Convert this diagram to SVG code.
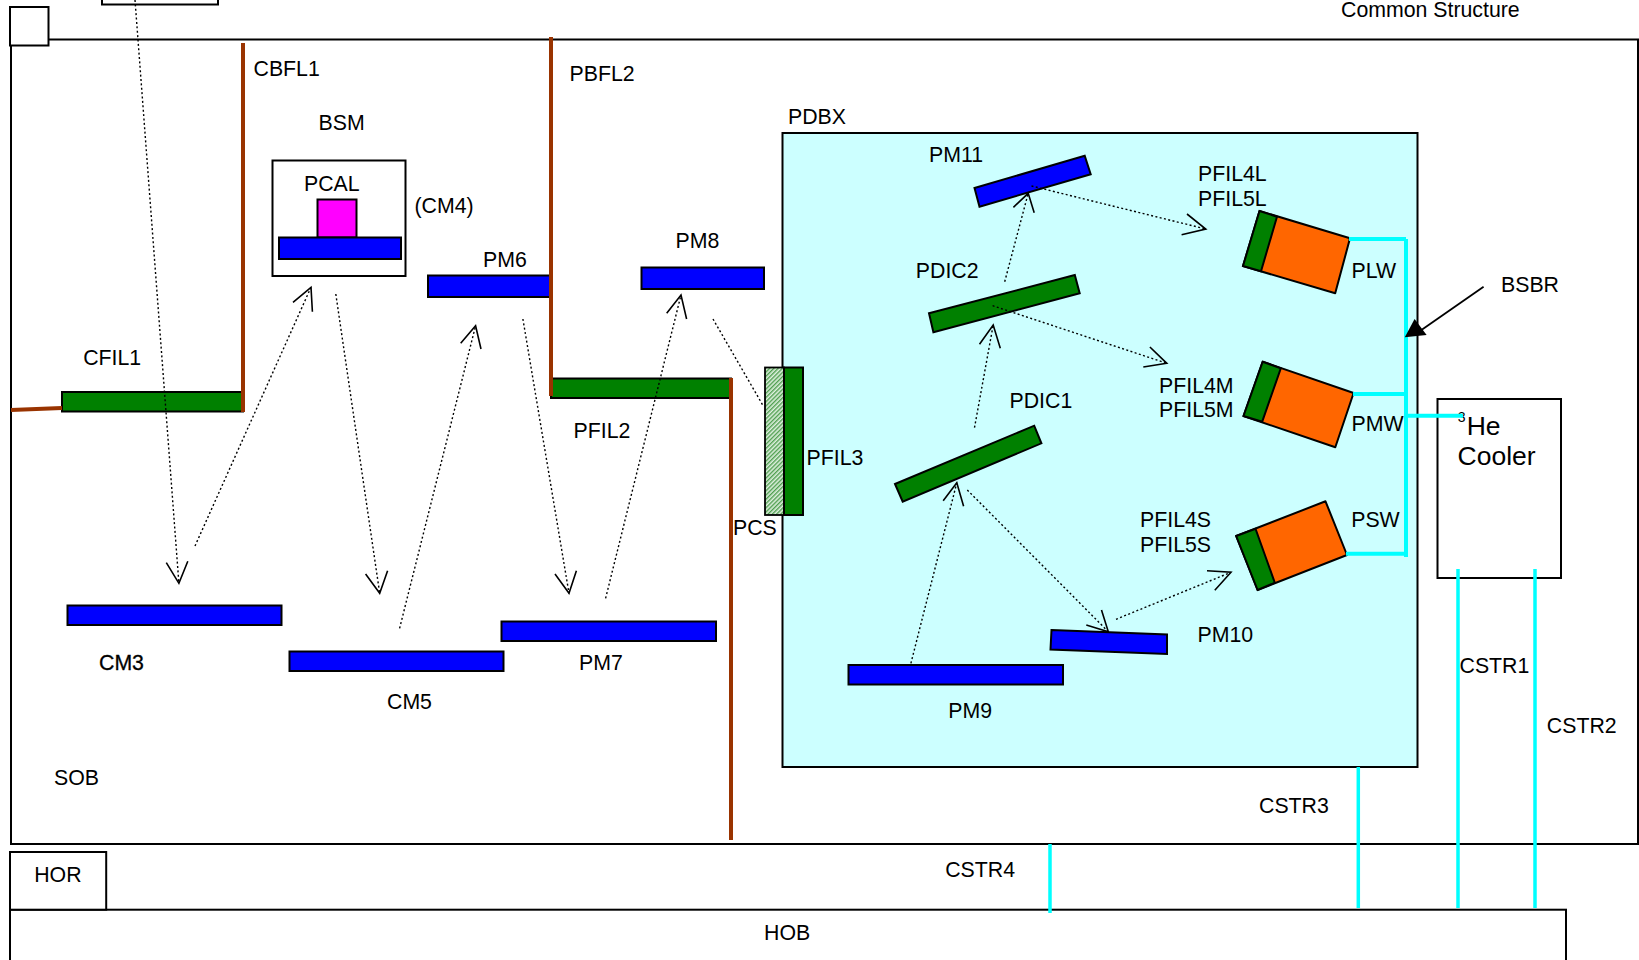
<svg xmlns="http://www.w3.org/2000/svg" width="1639" height="960" viewBox="0 0 1639 960">
<style>
text{font-family:"Liberation Sans",Arial,sans-serif;font-size:21.3px;fill:#000}
.box{fill:#fff;stroke:#000;stroke-width:2}
.m{fill:#0000ff;stroke:#000;stroke-width:2}
.f{fill:#008000;stroke:#000;stroke-width:2}
.o{fill:#ff6600;stroke:#000;stroke-width:2;stroke-linejoin:round}
.b{stroke:#993300;stroke-width:4;fill:none}
.c{stroke:#00ffff;stroke-width:4;fill:none}
.r{stroke:#000;stroke-width:1.4;stroke-dasharray:2 2.4;fill:none}
.h{stroke:#000;stroke-width:1.6;fill:none}
.big{font-size:26.5px}
</style>
<defs>
<pattern id="hatch" width="3" height="3" patternUnits="userSpaceOnUse" patternTransform="rotate(45)">
<rect width="3" height="3" fill="#dff0df"/><rect width="1.4" height="3" fill="#4f9f4f"/>
</pattern>
</defs>
<rect width="1639" height="960" fill="#fff"/>
<g id="SOB"><rect x="11" y="39.5" width="1627" height="804.5" class="box"/><text x="54" y="785">SOB</text></g>
<g id="topbox"><rect x="102" y="-10" width="116" height="14.500" class="box"/></g>
<g id="corner"><rect x="10" y="7" width="38.500" height="38.500" class="box"/></g>
<g id="HOB"><rect x="10" y="909.700" width="1556" height="70" class="box"/><text x="764" y="940">HOB</text></g>
<g id="HOR"><rect x="10" y="852" width="96.200" height="57.700" class="box"/><text x="34.200" y="882.300">HOR</text></g>
<g id="Common"><text x="1341" y="17">Common Structure</text></g>
<g id="PDBX"><rect x="782.500" y="133" width="635" height="634" fill="#ccffff" stroke="#000" stroke-width="2"/><text x="788" y="124">PDBX</text></g>
<g id="Cooler"><rect x="1437.500" y="399" width="123.500" height="179" class="box"/><text x="1457.800" y="422" style="font-size:14px">3</text><text x="1466.700" y="435" class="big">He</text><text x="1457.600" y="465" class="big">Cooler</text></g>
<g id="CFIL1"><rect x="62" y="392" width="181" height="19.500" class="f"/><text x="83.200" y="365">CFIL1</text></g>
<g id="CBFL1"><path d="M243 43V412M11 410L62 408" class="b"/><text x="253.500" y="76">CBFL1</text></g>
<g id="BSM"><rect x="272.500" y="160.500" width="133" height="115.500" class="box"/><rect x="317.500" y="199.500" width="39" height="38" fill="#ff00ff" stroke="#000" stroke-width="2"/><rect x="279" y="237.500" width="122" height="21.500" class="m"/><text x="318.500" y="130">BSM</text><text x="304" y="191">PCAL</text><text x="414.500" y="213">(CM4)</text></g>
<g id="PM6"><rect x="428" y="275.500" width="123.500" height="21.500" class="m"/><text x="483" y="266.700">PM6</text></g>
<g id="PM8"><rect x="641.500" y="267.500" width="122.500" height="21.500" class="m"/><text x="675.500" y="247.700">PM8</text></g>
<g id="PFIL2"><rect x="551" y="378.500" width="180" height="19.500" class="f"/><text x="573.500" y="437.700">PFIL2</text></g>
<g id="PBFL2"><path d="M551 37V396" class="b"/><text x="569.500" y="81">PBFL2</text></g>
<g id="PBFL"><path d="M731 378V840" class="b"/></g>
<g id="PCS"><rect x="765" y="367.500" width="19" height="147.500" fill="url(#hatch)" stroke="#000" stroke-width="1.800"/><text x="733" y="535">PCS</text></g>
<g id="PFIL3"><rect x="784" y="367.500" width="19" height="147.500" class="f"/><text x="806.600" y="465">PFIL3</text></g>
<g id="CM3"><rect x="67.500" y="605.500" width="214" height="19.500" class="m"/><text x="99" y="670" stroke="#000" stroke-width=".3">CM3</text></g>
<g id="CM5"><rect x="289.500" y="651.500" width="214" height="19.500" class="m"/><text x="387" y="709">CM5</text></g>
<g id="PM7"><rect x="501.500" y="621.500" width="214.500" height="19.500" class="m"/><text x="579" y="670">PM7</text></g>
<g id="PM9"><rect x="848.500" y="665" width="214.500" height="19.500" class="m"/><text x="948.300" y="718.300">PM9</text></g>
<g id="PM10"><polygon points="1051.500,630 1167,634.500 1167,654 1050.500,649.500" class="m"/><text x="1197.500" y="641.700">PM10</text></g>
<g id="PM11"><polygon points="974.500,188 1084.700,155.700 1090.700,174.300 979.500,206.700" class="m"/><text x="929" y="161.700">PM11</text></g>
<g id="PDIC2"><polygon points="929,313.300 1074.800,275 1079.700,293.300 933.400,332.300" class="f"/><text x="915.800" y="277.700">PDIC2</text></g>
<g id="PDIC1"><polygon points="895,484 1034.200,425.700 1041.400,443.300 902.700,501.700" class="f"/><text x="1009.500" y="408">PDIC1</text></g>
<g id="PLW"><polygon points="1259.500,211 1350,238.300 1335.200,293.300 1243,266" class="o"/><polygon points="1259.500,211 1277,216.700 1261,271.300 1243,266" class="f"/><text x="1351.500" y="277.700">PLW</text><text x="1198" y="181">PFIL4L</text><text x="1198" y="205.700">PFIL5L</text></g>
<g id="PMW"><polygon points="1262.700,361.700 1353.600,393 1335.300,447.300 1243.500,416" class="o"/><polygon points="1262.700,361.700 1280.800,368.300 1262.200,421.700 1243.500,416" class="f"/><text x="1351.500" y="431">PMW</text><text x="1159" y="392.700">PFIL4M</text><text x="1159" y="416.700">PFIL5M</text></g>
<g id="PSW"><polygon points="1236.200,536 1325.500,501.300 1347,555 1257.600,590" class="o"/><polygon points="1236.200,536 1255.500,528.700 1274.800,582.700 1257.600,590" class="f"/><text x="1351.200" y="526.700">PSW</text><text x="1140" y="526.700">PFIL4S</text><text x="1140" y="551.700">PFIL5S</text></g>
<g id="labels"><text x="1501" y="291.700">BSBR</text><text x="1459.500" y="672.700">CSTR1</text><text x="1546.800" y="733">CSTR2</text><text x="1259" y="813">CSTR3</text><text x="945.200" y="876.700">CSTR4</text></g>
<g id="connectors">
<path d="M1406 239V557M1349 239H1406M1353 394H1406M1346 553.700H1406M1406 415.700H1463" class="c"/>
<path d="M1458 569V908M1535 569V908M1358.300 767V908M1050 844V913" class="c" style="stroke-width:3.500"/>
<path d="M1483.600 286.700L1420 331" stroke="#000" stroke-width="1.800" fill="none"/>
<polygon points="1404.800,337.300 1414.600,319 1426.600,335" fill="#000"/>
<path class="r" d="M135 0L178.900 583.300M195 546L311 287.300M335.800 294L379.700 593.300M399.600 628.300L475.600 325.700M522.900 319L569 593.300M605.600 598.300L681 295M713 319L763.700 406.700M910.900 663.300L956.800 482.700M967.300 490L1108.300 631.700M1116 619.300L1231 572.300M974.500 427.700L993.200 325M992.600 305.700L1166.800 363.300M1004.700 281.700L1028.200 193.300M1031.500 186L1205.800 229"/>
<path class="h" d="M166.300 562.700L178.900 583.300L187.800 561.300M293 302.300L311 287.300L312.400 311.700M365.600 574L379.700 593.300L387.600 570.700M460.700 343.300L475.600 325.700L481 349M555 574L569 593.300L576.400 570.700M666.700 313.300L681 295L686.600 319M943.200 500.700L956.800 482.700L963.600 506.300M1086.300 625L1108.300 631.700L1101.500 610M1207 570.700L1231 572.300L1214.800 590.300M979.500 344.300L993.200 325L1000.300 348.300M1149.900 347L1166.800 363.300L1143.300 367M1013.400 207.300L1028.200 193.300L1034.200 212.700M1187 214L1205.800 229L1181.600 234.700"/>
</g>
</svg>
